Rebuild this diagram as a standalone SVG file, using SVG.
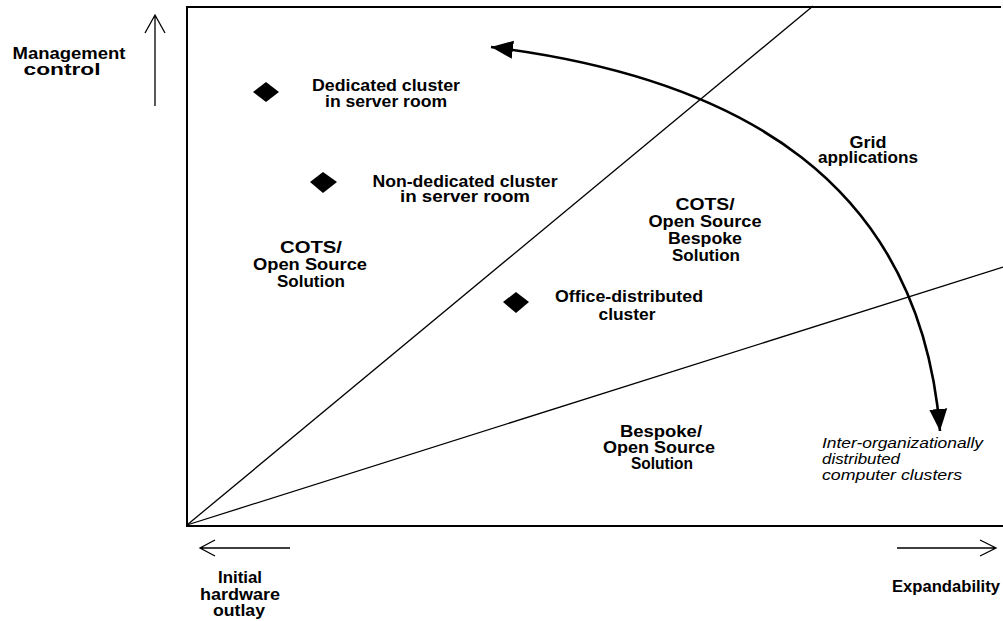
<svg xmlns="http://www.w3.org/2000/svg" width="1003" height="621" viewBox="0 0 1003 621">
<style>
.t{font-family:"Liberation Sans",Arial,sans-serif;font-size:16px;font-weight:bold;fill:#000;text-anchor:middle}
.it{font-family:"Liberation Sans",Arial,sans-serif;font-size:14px;font-style:italic;fill:#000}
.ln{stroke:#000;fill:none}
.dia{fill:#000}
</style>
<defs>
<marker id="tri" markerUnits="userSpaceOnUse" markerWidth="24" markerHeight="20" refX="22" refY="10" orient="auto-start-reverse" viewBox="0 0 24 20">
<path d="M0,1 L22,10 L0,19 Z" fill="#000"/>
</marker>
</defs>
<rect width="1003" height="621" fill="#fff"/>
<g id="axes">
<path class="ln" stroke-width="2" d="M1001,7 L187,7 L187,526 L1003,526"/>
<path class="ln" stroke-width="1.3" d="M155,106 L155,16 M145,33 L155,15 L165,33"/>
<path class="ln" stroke-width="1.3" d="M290,548 L200,548 M215,540 L200,548 L215,556"/>
<path class="ln" stroke-width="1.3" d="M897,548 L996,548 M980,540 L996,548 L980,556"/>
</g>
<g id="connectors">
<line class="ln" stroke-width="1.3" x1="187" y1="525" x2="813" y2="6"/>
<line class="ln" stroke-width="1.3" x1="187" y1="525" x2="1003" y2="267"/>
<path class="ln" stroke-width="2.6" d="M491,47 C740,78 920,182 940,431" marker-start="url(#tri)" marker-end="url(#tri)"/>
</g>
<g id="labels-axes">
<text class="t" x="69" y="59" textLength="113" lengthAdjust="spacingAndGlyphs">Management</text>
<text class="t" x="62" y="75" textLength="77" lengthAdjust="spacingAndGlyphs">control</text>
<text class="t" x="240" y="583" textLength="44" lengthAdjust="spacingAndGlyphs">Initial</text>
<text class="t" x="240" y="600" textLength="80" lengthAdjust="spacingAndGlyphs">hardware</text>
<text class="t" x="239" y="616" textLength="52" lengthAdjust="spacingAndGlyphs">outlay</text>
<text class="t" x="946" y="592" textLength="108" lengthAdjust="spacingAndGlyphs">Expandability</text>
</g>
<g id="node-dedicated">
<polygon class="dia" points="266,82 279,92 266,102 253,92"/>
<text class="t" x="386" y="91" textLength="148" lengthAdjust="spacingAndGlyphs">Dedicated cluster</text>
<text class="t" x="386" y="107" textLength="122" lengthAdjust="spacingAndGlyphs">in server room</text>
</g>
<g id="node-nondedicated">
<polygon class="dia" points="323,172 337,182 323,193 310,182"/>
<text class="t" x="465" y="187" textLength="185" lengthAdjust="spacingAndGlyphs">Non-dedicated cluster</text>
<text class="t" x="465" y="202" textLength="130" lengthAdjust="spacingAndGlyphs">in server room</text>
</g>
<g id="node-office">
<polygon class="dia" points="516,292 529,302 516,313 503,302"/>
<text class="t" x="629" y="302" textLength="148" lengthAdjust="spacingAndGlyphs">Office-distributed</text>
<text class="t" x="627" y="320" textLength="57" lengthAdjust="spacingAndGlyphs">cluster</text>
</g>
<g id="region-cots">
<text class="t" x="311" y="253" textLength="62" lengthAdjust="spacingAndGlyphs">COTS/</text>
<text class="t" x="310" y="270" textLength="114" lengthAdjust="spacingAndGlyphs">Open Source</text>
<text class="t" x="311" y="287" textLength="68" lengthAdjust="spacingAndGlyphs">Solution</text>
</g>
<g id="region-cots-bespoke">
<text class="t" x="705" y="210" textLength="59" lengthAdjust="spacingAndGlyphs">COTS/</text>
<text class="t" x="705" y="227" textLength="113" lengthAdjust="spacingAndGlyphs">Open Source</text>
<text class="t" x="705" y="244" textLength="74" lengthAdjust="spacingAndGlyphs">Bespoke</text>
<text class="t" x="706" y="261" textLength="68" lengthAdjust="spacingAndGlyphs">Solution</text>
</g>
<g id="region-bespoke">
<text class="t" x="661" y="437" textLength="82" lengthAdjust="spacingAndGlyphs">Bespoke/</text>
<text class="t" x="659" y="453" textLength="112" lengthAdjust="spacingAndGlyphs">Open Source</text>
<text class="t" x="662" y="469" textLength="62" lengthAdjust="spacingAndGlyphs">Solution</text>
</g>
<g id="node-grid">
<text class="t" x="868" y="148" textLength="37" lengthAdjust="spacingAndGlyphs">Grid</text>
<text class="t" x="868" y="163" textLength="100" lengthAdjust="spacingAndGlyphs">applications</text>
</g>
<g id="node-interorg">
<text class="it" x="822" y="448" textLength="161" lengthAdjust="spacingAndGlyphs">Inter-organizationally</text>
<text class="it" x="822" y="464" textLength="78" lengthAdjust="spacingAndGlyphs">distributed</text>
<text class="it" x="822" y="480" textLength="140" lengthAdjust="spacingAndGlyphs">computer clusters</text>
</g>
</svg>
